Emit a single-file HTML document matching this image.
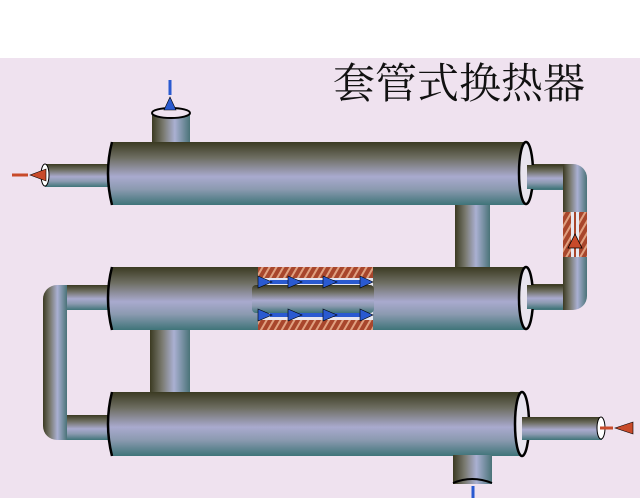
<!DOCTYPE html>
<html><head><meta charset="utf-8"><style>
html,body{margin:0;padding:0;width:640px;height:498px;overflow:hidden;background:#fff}
</style></head><body>
<svg width="640" height="498" viewBox="0 0 640 498" xmlns="http://www.w3.org/2000/svg">
<defs>
<linearGradient id="h" x1="0" y1="0" x2="0" y2="1">
<stop offset="0" stop-color="#3b3a22"/><stop offset="0.25" stop-color="#6e6e62"/>
<stop offset="0.55" stop-color="#a9aace"/><stop offset="0.75" stop-color="#8b9ab0"/>
<stop offset="1" stop-color="#3f7479"/></linearGradient>
<linearGradient id="v" x1="0" y1="0" x2="1" y2="0">
<stop offset="0" stop-color="#3b3a22"/><stop offset="0.3" stop-color="#7a7a70"/>
<stop offset="0.6" stop-color="#aab0d2"/><stop offset="1" stop-color="#4a7378"/></linearGradient>
<pattern id="hat" width="6" height="6" patternUnits="userSpaceOnUse" patternTransform="rotate(30)">
<rect width="6" height="6" fill="#a8462c"/><rect width="2" height="6" fill="#e0a080"/></pattern>
</defs>
<rect x="0" y="58" width="640" height="440" fill="#efe2ef"/>
<text x="333" y="98" font-family="'Liberation Serif','Noto Serif CJK SC',serif" font-size="42" fill="#111">套管式换热器</text>

<rect x="152" y="112" width="38" height="32" fill="url(#v)"/>
<ellipse cx="171" cy="113" rx="19" ry="5" fill="#efe2ef" stroke="#000" stroke-width="2"/>
<line x1="170" y1="80" x2="170" y2="95" stroke="#2a5ad0" stroke-width="3"/>
<polygon points="170,97 164,110 176,110" fill="#2a5ad0" stroke="#000" stroke-width="0.6"/>
<rect x="45" y="164" width="64" height="23" fill="url(#h)"/>
<ellipse cx="45" cy="175" rx="4" ry="11" fill="#fff" stroke="#000"/>
<line x1="12" y1="175" x2="28" y2="175" stroke="#c84a2a" stroke-width="3"/>
<polygon points="30,175 46,169 46,181" fill="#c84a2a" stroke="#000" stroke-width="0.6"/>

<rect x="455" y="200" width="35" height="72" fill="url(#v)"/>
<rect x="150" y="325" width="40" height="72" fill="url(#v)"/>

<rect x="525" y="164" width="48" height="26" fill="url(#h)"/>
<rect x="525" y="284" width="48" height="26" fill="url(#h)"/>
<path d="M563 164 h10 a14 14 0 0 1 14 14 v118 a14 14 0 0 1 -14 14 h-10 z" fill="url(#v)"/>
<rect x="563" y="212" width="24" height="45" fill="url(#hat)"/>
<rect x="571" y="212" width="8" height="45" fill="#e8e8f0"/>
<line x1="575" y1="212" x2="575" y2="257" stroke="#a8462c" stroke-width="2"/>
<polygon points="575,234 568,248 582,248" fill="#c84a2a" stroke="#000" stroke-width="0.8"/>

<rect x="60" y="285" width="50" height="25" fill="url(#h)"/>
<rect x="60" y="415" width="50" height="25" fill="url(#h)"/>
<path d="M67 285 h-10 a14 14 0 0 0 -14 14 v127 a14 14 0 0 0 14 14 h10 z" fill="url(#v)"/>

<g>
<path d="M112 142 H527 V205 H112 q-8 -31 0 -63 z" fill="url(#h)"/>
<path d="M112 142 q-8 31 0 63" fill="none" stroke="#000" stroke-width="2.5"/>
<ellipse cx="526" cy="173" rx="7" ry="31" fill="#e8e4ee" stroke="#000" stroke-width="2.5"/>
</g>
<g>
<path d="M112 267 H527 V330 H112 q-8 -31 0 -63 z" fill="url(#h)"/>
<path d="M112 267 q-8 31 0 63" fill="none" stroke="#000" stroke-width="2.5"/>
<ellipse cx="526" cy="298" rx="7" ry="31" fill="#e8e4ee" stroke="#000" stroke-width="2.5"/>
</g>
<g>
<path d="M112 392 H523 V456 H112 q-8 -32 0 -64 z" fill="url(#h)"/>
<path d="M112 392 q-8 32 0 64" fill="none" stroke="#000" stroke-width="2.5"/>
<ellipse cx="522" cy="424" rx="7" ry="32" fill="#e8e4ee" stroke="#000" stroke-width="2.5"/>
</g>
<rect x="527" y="165" width="36" height="24" fill="url(#h)"/>
<rect x="527" y="285" width="36" height="24" fill="url(#h)"/>
<rect x="522" y="417" width="80" height="23" fill="url(#h)"/>
<ellipse cx="601" cy="428" rx="4" ry="11" fill="#fff" stroke="#000"/>
<line x1="600" y1="428" x2="613" y2="428" stroke="#c84a2a" stroke-width="3"/>
<polygon points="615,428 633,422 633,434" fill="#c84a2a" stroke="#000" stroke-width="0.6"/>

<rect x="453" y="455" width="39" height="29" fill="url(#v)"/>
<path d="M453 483 q19 -8 39 0" fill="none" stroke="#000" stroke-width="2"/>
<line x1="473" y1="486" x2="473" y2="498" stroke="#2a5ad0" stroke-width="3"/>

<rect x="258" y="267" width="115" height="11" fill="url(#hat)"/>
<rect x="258" y="320" width="115" height="10" fill="url(#hat)"/>
<rect x="258" y="278" width="115" height="42" fill="#e6e6f0"/>
<rect x="252" y="285" width="122" height="28" rx="4" fill="url(#h)"/>
<g fill="#2a5ad0" stroke="#000" stroke-width="0.6">
<rect x="270" y="280" width="100" height="4" stroke="none"/>
<rect x="270" y="313" width="100" height="4" stroke="none"/>
<polygon points="258,276 272,282 258,288"/><polygon points="288,276 302,282 288,288"/><polygon points="323,276 337,282 323,288"/><polygon points="360,276 373,282 360,288"/>
<polygon points="258,309 272,315 258,321"/><polygon points="288,309 302,315 288,321"/><polygon points="323,309 337,315 323,321"/><polygon points="360,309 373,315 360,321"/>
</g>
</svg>
</body></html>
